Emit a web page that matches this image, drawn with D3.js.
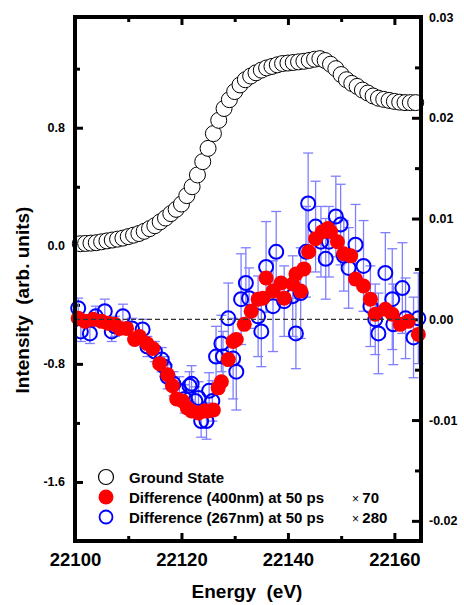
<!DOCTYPE html>
<html>
<head>
  <meta charset="utf-8">
  <title>XANES ground state and difference</title>
  <script src="https://d3js.org/d3.v7.min.js"></script>
  <style>
    body { margin: 0; background: #fff; }
    svg text { font-family: "Liberation Sans", Arial, sans-serif; font-weight: bold; }
  </style>
</head>
<body>
<div id="chart"></div>
<script>
// ground state spectrum (left axis), 1 eV steps
var groundEnergy = d3.range(22101, 22165);
var groundValue = [0.014, 0.016, 0.018, 0.021, 0.027, 0.033, 0.039, 0.045, 0.052, 0.062,
  0.072, 0.083, 0.098, 0.116, 0.136, 0.162, 0.188, 0.218, 0.247, 0.283,
  0.34, 0.40, 0.48, 0.57, 0.66, 0.76, 0.85, 0.93, 0.99, 1.045,
  1.09, 1.125, 1.15, 1.172, 1.19, 1.205, 1.215, 1.226, 1.235, 1.238,
  1.242, 1.246, 1.25, 1.256, 1.264, 1.268, 1.255, 1.23, 1.2, 1.16,
  1.125, 1.10, 1.08, 1.055, 1.035, 1.015, 1.0, 0.992, 0.985, 0.978,
  0.973, 0.97, 0.97, 0.97];

// difference 400nm x70 (right axis)
var redEnergy = [22100.6, 22101.9, 22103.4, 22105.0, 22106.2, 22107.5, 22108.4, 22109.7, 22111.2, 22112.1,
  22113.5, 22114.6, 22115.9, 22117.4, 22118.3, 22119.1, 22120.2, 22121.1, 22121.9, 22123.2,
  22124.3, 22125.0, 22126.0, 22126.9, 22127.5, 22128.8, 22129.7, 22130.3, 22131.8, 22133.1,
  22134.4, 22135.3, 22135.9, 22137.2, 22138.7, 22139.3, 22140.9, 22141.5, 22142.4, 22143.0,
  22143.9, 22145.2, 22146.5, 22147.5, 22148.0, 22149.3, 22150.5, 22151.8, 22152.7, 22154.2,
  22155.5, 22156.4, 22158.3, 22159.6, 22161.1, 22162.6, 22164.5];
var redValue = [0.0001, -0.0002, 0.0000, -0.0002, -0.0004, -0.0005, -0.0009, -0.0009, -0.0020, -0.0017,
  -0.0024, -0.0029, -0.0044, -0.0055, -0.0066, -0.0079, -0.0081, -0.0088, -0.0091, -0.0093,
  -0.0091, -0.0091, -0.0090, -0.0068, -0.0062, -0.0040, -0.0022, -0.0020, -0.0005, 0.0008,
  0.0020, 0.0021, 0.0041, 0.0028, 0.0036, 0.0021, 0.0035, 0.0045, 0.0028, 0.0050,
  0.0067, 0.0080, 0.0087, 0.0090, 0.0087, 0.0077, 0.0065, 0.0063, 0.0040, 0.0033,
  0.0020, 0.0005, 0.0010, 0.0005, -0.0005, -0.0002, -0.0015];

// difference 267nm x280 (right axis) with error bars
var blueEnergy = [22100.6, 22101.1, 22102.8, 22103.9, 22105.6, 22106.9, 22107.5, 22109.0, 22110.7, 22112.7,
  22113.6, 22115.0, 22116.3, 22116.8, 22117.4, 22118.5, 22119.6, 22120.6, 22121.5, 22121.9,
  22122.6, 22123.2, 22123.7, 22124.7, 22125.2, 22125.8, 22126.5, 22127.5, 22127.8, 22128.8,
  22129.7, 22130.3, 22131.2, 22132.1, 22132.7, 22134.4, 22135.0, 22135.9, 22137.2, 22137.8,
  22139.3, 22140.9, 22141.5, 22142.4, 22143.4, 22143.8, 22145.2, 22146.2, 22147.1, 22147.7,
  22149.0, 22149.9, 22150.5, 22151.4, 22152.7, 22154.2, 22155.5, 22156.4, 22157.0, 22158.3,
  22159.6, 22159.8, 22161.5, 22162.1, 22163.6, 22164.5];
var blueValue = [0.0011, -0.0012, -0.0014, 0.0003, 0.0008, -0.0012, -0.0007, 0.0003, -0.0009, -0.0010,
  -0.0027, -0.0032, -0.0040, -0.0047, -0.0057, -0.0064, -0.0071, -0.0079, -0.0066, -0.0064,
  -0.0081, -0.0078, -0.0101, -0.0101, -0.0071, -0.0081, -0.0037, -0.0024, -0.0037, 0.0001,
  -0.0039, -0.0052, 0.0020, 0.0036, 0.0021, 0.0003, -0.0012, 0.0052, 0.0013, 0.0067,
  0.0018, 0.0023, -0.0014, 0.0026, 0.0067, 0.0115, 0.0092, 0.0077, 0.0060, 0.0077,
  0.0102, 0.0094, 0.0063, 0.0051, 0.0074, 0.0053, 0.0013, 0.0000, -0.0014, 0.0046,
  0.0020, -0.0005, 0.0031, 0.0001, -0.0018, 0.0001];
var blueError = [0.0010, 0.0010, 0.0010, 0.0010, 0.0012, 0.0010, 0.0010, 0.0012, 0.0010, 0.0010,
  0.0010, 0.0010, 0.0012, 0.0010, 0.0012, 0.0012, 0.0014, 0.0014, 0.0014, 0.0018,
  0.0014, 0.0016, 0.0016, 0.0018, 0.0018, 0.0020, 0.0030, 0.0028, 0.0025, 0.0035,
  0.0040, 0.0038, 0.0045, 0.0035, 0.0030, 0.0040, 0.0035, 0.0045, 0.0045, 0.0040,
  0.0035, 0.0040, 0.0035, 0.0045, 0.0045, 0.0050, 0.0045, 0.0035, 0.0040, 0.0035,
  0.0040, 0.0040, 0.0035, 0.0040, 0.0040, 0.0045, 0.0040, 0.0035, 0.0040, 0.0040,
  0.0050, 0.0040, 0.0045, 0.0040, 0.0040, 0.0045];

var xMajor = [22100, 22120, 22140, 22160], xMinor = [22110, 22130, 22150];
var leftMajor = [-1.6, -0.8, 0.0, 0.8], leftMinor = [-1.2, -0.4, 0.4, 1.2];
var rightMajor = [-0.02, -0.01, 0.00, 0.01, 0.02, 0.03], rightMinor = [-0.015, -0.005, 0.005, 0.015, 0.025];
var legendLabels = ["Ground State", "Difference (400nm) at 50 ps", "Difference (267nm) at 50 ps"];
var legendFactors = ["", "70", "280"];

var W = 464, H = 605;
var box = {left: 75, right: 421, top: 17, bottom: 541};

var svg = d3.select("#chart").append("svg").attr("width", W).attr("height", H);

var x = d3.scaleLinear().domain([22100, 22165]).range([box.left, box.right]);
var yL = d3.scaleLinear().domain([-2.0, 1.55]).range([box.bottom, box.top]);
var yR = d3.scaleLinear().domain([-0.022, 0.03]).range([box.bottom, box.top]);

// plain hyphen for negatives, like the original
function fmt(p) {
  var f = d3.format("." + p + "f");
  return function(d) { return f(d).replace("\u2212", "-"); };
}

// axes: ticks point inward
function styleAxis(g, fs) {
  g.select(".domain").remove();
  g.selectAll(".tick line").attr("stroke", "#000").attr("stroke-width", 3);
  g.selectAll(".tick text").attr("fill", "#000").attr("font-size", fs);
}

svg.append("g").attr("transform", "translate(0," + box.bottom + ")")
  .call(d3.axisBottom(x).tickValues(xMajor).tickSize(-8).tickPadding(12).tickFormat(d3.format("d")))
  .call(styleAxis, 18.5);
svg.append("g").attr("transform", "translate(0," + box.bottom + ")")
  .call(d3.axisBottom(x).tickValues(xMinor).tickSize(-5).tickFormat(""))
  .call(styleAxis, 0);
svg.append("g").attr("transform", "translate(0," + box.top + ")")
  .call(d3.axisTop(x).tickValues(xMajor).tickSize(-8).tickFormat(""))
  .call(styleAxis, 0);
svg.append("g").attr("transform", "translate(0," + box.top + ")")
  .call(d3.axisTop(x).tickValues(xMinor).tickSize(-5).tickFormat(""))
  .call(styleAxis, 0);

svg.append("g").attr("transform", "translate(" + box.left + ",0)")
  .call(d3.axisLeft(yL).tickValues(leftMajor).tickSize(-8).tickPadding(10).tickFormat(fmt(1)))
  .call(styleAxis, 12.5);
svg.append("g").attr("transform", "translate(" + box.left + ",0)")
  .call(d3.axisLeft(yL).tickValues(leftMinor).tickSize(-5).tickFormat(""))
  .call(styleAxis, 0);

svg.append("g").attr("transform", "translate(" + box.right + ",0)")
  .call(d3.axisRight(yR).tickValues(rightMajor).tickSize(-9).tickPadding(8).tickFormat(fmt(2)))
  .call(styleAxis, 12.5);
svg.append("g").attr("transform", "translate(" + box.right + ",0)")
  .call(d3.axisRight(yR).tickValues(rightMinor).tickSize(-6).tickFormat(""))
  .call(styleAxis, 0);

// ground state
svg.append("g").selectAll("circle")
  .data(groundEnergy)
  .enter().append("circle")
  .attr("cx", function(d) { return x(d); })
  .attr("cy", function(d, i) { return yL(groundValue[i]); })
  .attr("r", 8)
  .attr("fill", "#fff")
  .attr("stroke", "#000")
  .attr("stroke-width", 1);

// blue error bars
var eb = svg.append("g").attr("stroke", "#7f7fff").attr("stroke-width", 1.3);
blueEnergy.forEach(function(e, i) {
  var cx = x(e), y0 = yR(blueValue[i] - blueError[i]), y1 = yR(blueValue[i] + blueError[i]);
  eb.append("line").attr("x1", cx).attr("x2", cx).attr("y1", y0).attr("y2", y1);
  eb.append("line").attr("x1", cx - 5).attr("x2", cx + 5).attr("y1", y0).attr("y2", y0);
  eb.append("line").attr("x1", cx - 5).attr("x2", cx + 5).attr("y1", y1).attr("y2", y1);
});

svg.append("g").selectAll("circle")
  .data(blueEnergy)
  .enter().append("circle")
  .attr("cx", function(d) { return x(d); })
  .attr("cy", function(d, i) { return yR(blueValue[i]); })
  .attr("r", 7)
  .attr("fill", "none")
  .attr("stroke", "#0000ff")
  .attr("stroke-width", 2);

svg.append("g").selectAll("circle")
  .data(redEnergy)
  .enter().append("circle")
  .attr("cx", function(d) { return x(d); })
  .attr("cy", function(d, i) { return yR(redValue[i]); })
  .attr("r", 7.5)
  .attr("fill", "#ff0000");

// zero line for the difference
svg.append("line")
  .attr("x1", box.left).attr("x2", box.right)
  .attr("y1", yR(0)).attr("y2", yR(0))
  .attr("stroke", "#333").attr("stroke-width", 1.3)
  .attr("stroke-dasharray", "5,3");

// frame
svg.append("rect")
  .attr("x", box.left).attr("y", box.top)
  .attr("width", box.right - box.left).attr("height", box.bottom - box.top)
  .attr("fill", "none").attr("stroke", "#000").attr("stroke-width", 4);

// legend
var leg = svg.append("g");
legendLabels.forEach(function(t, i) {
  var ly = 477 + i * 20;
  var c = leg.append("circle").attr("cx", 106).attr("cy", ly);
  if (i === 0) c.attr("r", 7.5).attr("fill", "#fff").attr("stroke", "#000").attr("stroke-width", 1.2);
  if (i === 1) c.attr("r", 7.5).attr("fill", "#ff0000");
  if (i === 2) c.attr("r", 6.5).attr("fill", "none").attr("stroke", "#0000ff").attr("stroke-width", 1.8);
  leg.append("text").attr("x", 129).attr("y", ly + 5.5).attr("font-size", 15).text(t);
  if (legendFactors[i]) {
    var ft = leg.append("text").attr("x", 352).attr("y", ly + 5.5).attr("font-size", 15);
    ft.append("tspan").attr("font-weight", "normal").attr("font-size", 12).text("\u00d7 ");
    ft.append("tspan").text(legendFactors[i]);
  }
});

// axis titles
svg.append("text")
  .attr("x", 247).attr("y", 598)
  .attr("text-anchor", "middle").attr("font-size", 19)
  .attr("xml:space", "preserve")
  .text("Energy  (eV)");
svg.append("text")
  .attr("transform", "translate(29,300) rotate(-90)")
  .attr("text-anchor", "middle").attr("font-size", 19)
  .attr("xml:space", "preserve")
  .text("Intensity  (arb. units)");
</script>
</body>
</html>
